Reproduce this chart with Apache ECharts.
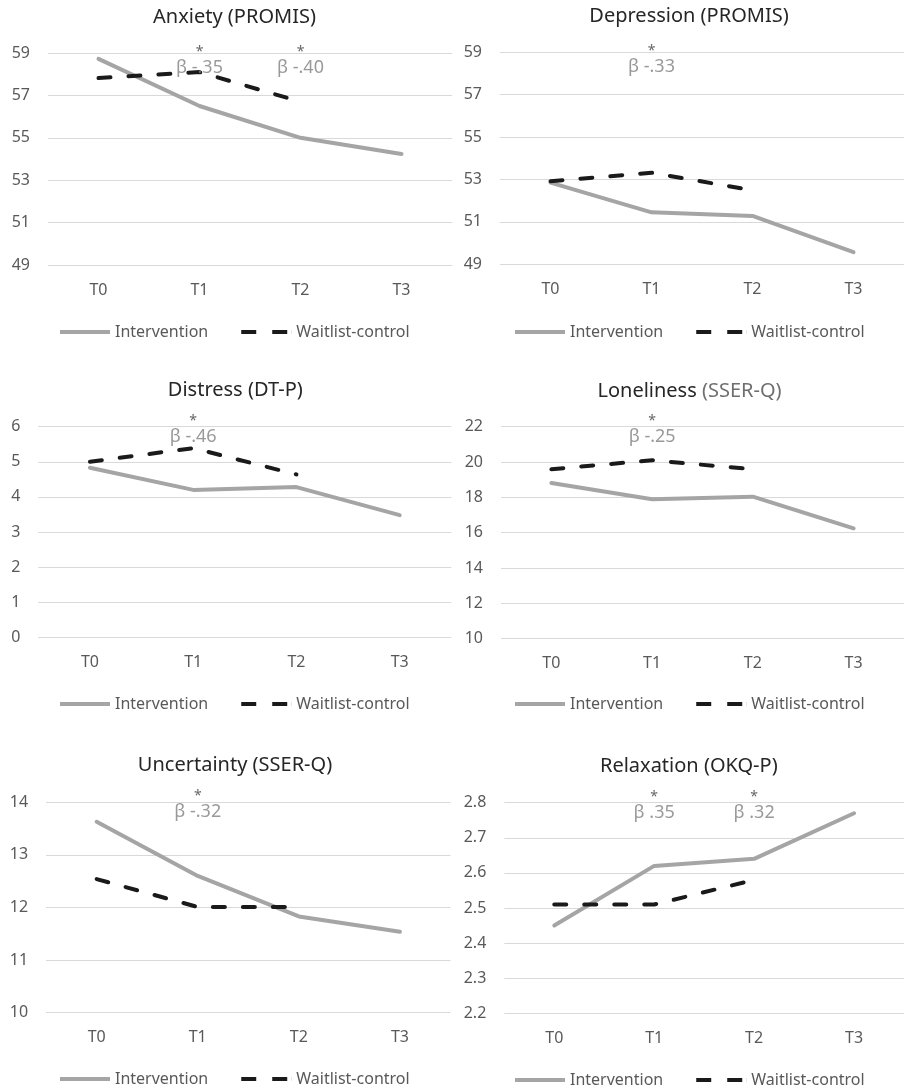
<!DOCTYPE html>
<html>
<head>
<meta charset="utf-8">
<script src="https://cdn.jsdelivr.net/npm/echarts@6/dist/echarts.min.js"></script>
<style>
html,body{margin:0;padding:0;background:#fff;}
#chart{width:904px;height:1090px;}
</style>
</head>
<body>
<div id="chart"></div>
<script>
// ---- data ----
const categories = ['T0', 'T1', 'T2', 'T3'];
const seriesNames = ['Intervention', 'Waitlist-control'];

const anxietyIntervention = [58.72, 56.5, 55.0, 54.24];
const anxietyWaitlist = [57.82, 58.1, 56.7];
const depressionIntervention = [52.85, 51.45, 51.28, 49.57];
const depressionWaitlist = [52.92, 53.32, 52.49];
const distressIntervention = [4.83, 4.2, 4.28, 3.48];
const distressWaitlist = [5.0, 5.39, 4.64];
const lonelinessIntervention = [18.81, 17.89, 18.04, 16.25];
const lonelinessWaitlist = [19.59, 20.1, 19.59];
const uncertaintyIntervention = [13.63, 12.6, 11.83, 11.54];
const uncertaintyWaitlist = [12.54, 12.01, 12.01];
const relaxationIntervention = [2.45, 2.62, 2.64, 2.77];
const relaxationWaitlist = [2.51, 2.51, 2.58];

const anxietyNotes = [['T1', 'β -.35'], ['T2', 'β -.40']];
const depressionNotes = [['T1', 'β -.33']];
const distressNotes = [['T1', 'β -.46']];
const lonelinessNotes = [['T1', 'β -.25']];
const uncertaintyNotes = [['T1', 'β -.32']];
const relaxationNotes = [['T1', 'β .35'], ['T2', 'β .32']];

const titleMain = ['Anxiety', 'Depression', 'Distress', 'Loneliness', 'Uncertainty', 'Relaxation'];
const titleScale = ['(PROMIS)', '(PROMIS)', '(DT-P)', '(SSER-Q)', '(SSER-Q)', '(OKQ-P)'];

const yMin = [49, 49, 0, 10, 10, 2.2];
const yMax = [59, 59, 6, 22, 14, 2.8];
const yStep = [2, 2, 1, 2, 1, 0.1];
const yDecimals = [0, 0, 0, 0, 0, 1];

const interventionData = [anxietyIntervention, depressionIntervention, distressIntervention, lonelinessIntervention, uncertaintyIntervention, relaxationIntervention];
const waitlistData = [anxietyWaitlist, depressionWaitlist, distressWaitlist, lonelinessWaitlist, uncertaintyWaitlist, relaxationWaitlist];
const notesData = [anxietyNotes, depressionNotes, distressNotes, lonelinessNotes, uncertaintyNotes, relaxationNotes];

// ---- layout ----
const grids = [
  {left: 48, top: 53, width: 404, height: 212},
  {left: 500, top: 52.3, width: 404, height: 212},
  {left: 38.3, top: 426.7, width: 413, height: 210.6},
  {left: 501, top: 426.7, width: 404, height: 212},
  {left: 46.1, top: 802.3, width: 404.4, height: 210.4},
  {left: 504.3, top: 802.7, width: 400, height: 210.6}
];
const titlePos = [[234.5, 5], [689, 4], [235.3, 378], [689.5, 379], [235, 753], [688.8, 754]];
const legendPos = [[60, 324], [515, 324], [60, 696], [515, 696], [60, 1071], [515, 1072]];
const noteOffsetY = [9, 9, 4, 4, 4, 4];

const FONT = '"Noto Sans", "Open Sans", sans-serif';
const GRAY_TEXT = '#595959';
const ICON_SOLID = 'path://M0,0H50V4H0Z';
const ICON_DASH = 'path://M0,0H15V4H0Z M31,0H46V4H31Z M49.9,0H50V4H49.9Z';

const option = {
  animation: false,
  backgroundColor: '#ffffff',
  textStyle: {fontFamily: FONT},
  title: [], legend: [], grid: [], xAxis: [], yAxis: [], series: []
};

for (let i = 0; i < 6; i++) {
  option.grid.push(Object.assign({containLabel: false}, grids[i]));
  option.title.push({
    text: i === 3 ? '{m|' + titleMain[i] + '} {s|' + titleScale[i] + '}' : titleMain[i] + ' ' + titleScale[i],
    left: titlePos[i][0], top: titlePos[i][1], textAlign: 'center', padding: 0,
    textStyle: {
      fontFamily: FONT, fontSize: 20, fontWeight: 'normal', color: '#262626', lineHeight: 24,
      rich: {
        m: {fontFamily: FONT, fontSize: 20, color: '#262626', lineHeight: 24},
        s: {fontFamily: FONT, fontSize: 20, color: '#6f6f6f', lineHeight: 24}
      }
    }
  });
  option.legend.push({
    data: [
      {name: seriesNames[0], icon: ICON_SOLID},
      {name: seriesNames[1], icon: ICON_DASH}
    ],
    left: legendPos[i][0], top: legendPos[i][1], padding: 0,
    itemWidth: 50, itemHeight: 4, itemGap: 33,
    textStyle: {fontFamily: FONT, fontSize: 16, color: GRAY_TEXT},
    selectedMode: false
  });
  option.xAxis.push({
    type: 'category', gridIndex: i, data: categories, boundaryGap: true,
    axisLine: {show: false}, axisTick: {show: false},
    axisLabel: {fontFamily: FONT, fontSize: 16, color: GRAY_TEXT, margin: 17},
    splitLine: {show: false}
  });
  const dec = yDecimals[i];
  option.yAxis.push({
    type: 'value', gridIndex: i, min: yMin[i], max: yMax[i], interval: yStep[i],
    axisLine: {show: false}, axisTick: {show: false},
    axisLabel: {fontFamily: FONT, fontSize: 16, color: GRAY_TEXT, margin: 18,
      formatter: v => Number(v).toFixed(dec)},
    splitLine: {show: true, lineStyle: {color: '#d9d9d9', width: 1}}
  });
  option.series.push({
    name: seriesNames[0], type: 'line', xAxisIndex: i, yAxisIndex: i,
    data: interventionData[i], symbol: 'none', showSymbol: false, silent: true,
    lineStyle: {color: '#a5a5a5', width: 4, join: 'round', cap: 'round'},
    itemStyle: {color: '#a5a5a5'}, z: 3
  });
  option.series.push({
    name: seriesNames[1], type: 'line', xAxisIndex: i, yAxisIndex: i,
    data: waitlistData[i], symbol: 'none', showSymbol: false, silent: true,
    lineStyle: {color: '#1a1a1a', width: 4, type: [12, 18], cap: 'round', join: 'round'},
    itemStyle: {color: '#1a1a1a'}, z: 4
  });
  option.series.push({
    name: 'notes' + i, type: 'scatter', xAxisIndex: i, yAxisIndex: i,
    symbolSize: 0, silent: true, z: 5,
    data: notesData[i].map(n => ({value: [n[0], yMax[i]], name: n[1]})),
    label: {
      show: true, position: 'inside', offset: [0, noteOffsetY[i]],
      formatter: p => '{a|*}\n{b|' + p.name + '}',
      rich: {
        a: {fontFamily: FONT, fontSize: 14, color: '#404040', lineHeight: 12, align: 'center'},
        b: {fontFamily: FONT, fontSize: 18, color: '#7f7f7f', lineHeight: 20, align: 'center'}
      }
    }
  });
}

const chart = echarts.init(document.getElementById('chart'), null, {renderer: 'canvas'});
chart.setOption(option);
</script>
</body>
</html>
